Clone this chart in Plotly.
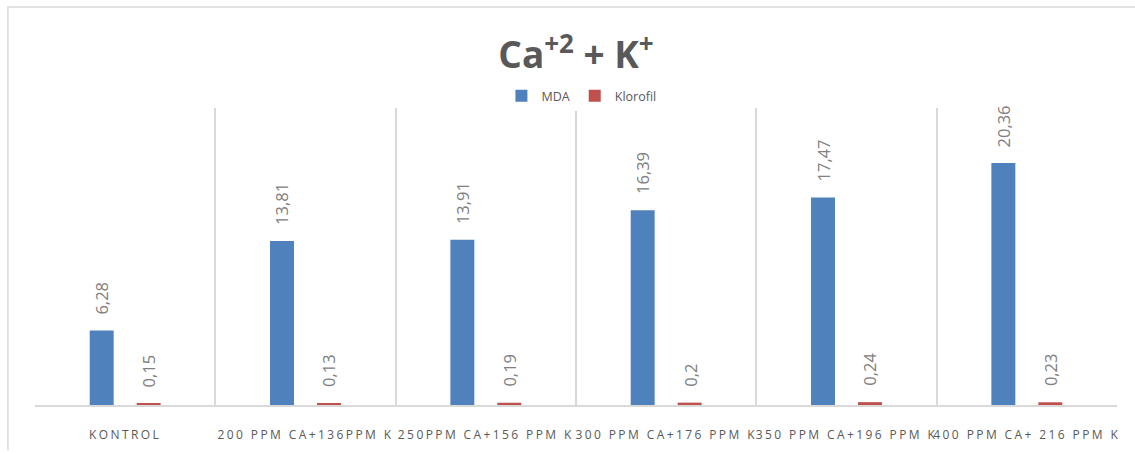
import plotly.graph_objects as go

# Treatment groups and measured values
categories = [
    "KONTROL",
    "200 PPM CA+136PPM K",
    "250PPM CA+156 PPM K",
    "300 PPM CA+176 PPM K",
    "350 PPM CA+196 PPM K",
    "400 PPM CA+ 216 PPM K",
]
mda = [6.28, 13.81, 13.91, 16.39, 17.47, 20.36]
klorofil = [0.15, 0.13, 0.19, 0.2, 0.24, 0.23]

BLUE = "#4f81bd"
RED = "#c0504d"
GRID = "#d9d9d9"
TEXT = "#595959"
LABEL = "#808080"
FONT = "Open Sans"


def fmt(v):
    return ("%g" % v).replace(".", ",")


fig = go.Figure()
fig.add_trace(go.Bar(name="MDA", x=categories, y=mda, marker_color=BLUE,
                     marker_line_width=0))
fig.add_trace(go.Bar(name="Klorofil", x=categories, y=klorofil, marker_color=RED,
                     marker_line_width=0))

# Rotated value labels above each bar
annotations = []
for series, shift in ((mda, -23.5), (klorofil, 23.5)):
    for cat, v in zip(categories, series):
        annotations.append(dict(
            x=cat, y=v, xref="x", yref="y", text=fmt(v), showarrow=False,
            textangle=-90, xanchor="center", yanchor="bottom",
            xshift=shift, yshift=14,
            font=dict(family=FONT, size=16.5, color=LABEL),
        ))

# Outer chart frame (top and left edges)
shapes = [
    dict(type="path", xref="paper", yref="paper",
         path="M -0.025,-0.152 L -0.025,1.34 L 1.05,1.34",
         line=dict(color=GRID, width=1.5)),
]

fig.update_layout(
    width=1135, height=454,
    margin=dict(l=35, r=18, t=108, b=49),
    paper_bgcolor="white", plot_bgcolor="white",
    barmode="group", bargap=0.479, bargroupgap=0.49,
    title=dict(text="Ca<sup>+2</sup> + K<sup>+</sup>", x=0.5, xanchor="center",
               xref="paper", y=0.878, yanchor="middle",
               font=dict(family=FONT, size=37, color=TEXT, weight="bold")),
    legend=dict(orientation="h", x=0.505, xanchor="center", y=1.04, yanchor="middle",
                font=dict(family=FONT, size=12.5, color=TEXT),
                itemwidth=30, traceorder="normal"),
    xaxis=dict(type="category", tickson="boundaries", showgrid=True,
               gridcolor=GRID, gridwidth=1.5, showline=True, linecolor=GRID,
               linewidth=1.5, ticks="", ticklabelstandoff=18,
               tickfont=dict(family=FONT, size=12, color=TEXT), tickangle=0),
    yaxis=dict(range=[0, 25], showgrid=False, showticklabels=False,
               zeroline=False, showline=False, ticks=""),
    annotations=annotations,
    shapes=shapes,
    showlegend=True,
)

spacing_js = (
    "document.querySelectorAll('.xtick text').forEach(function(t){"
    "t.style.letterSpacing='2.4px';});"
)
fig.write_html("out.html", post_script=spacing_js)
